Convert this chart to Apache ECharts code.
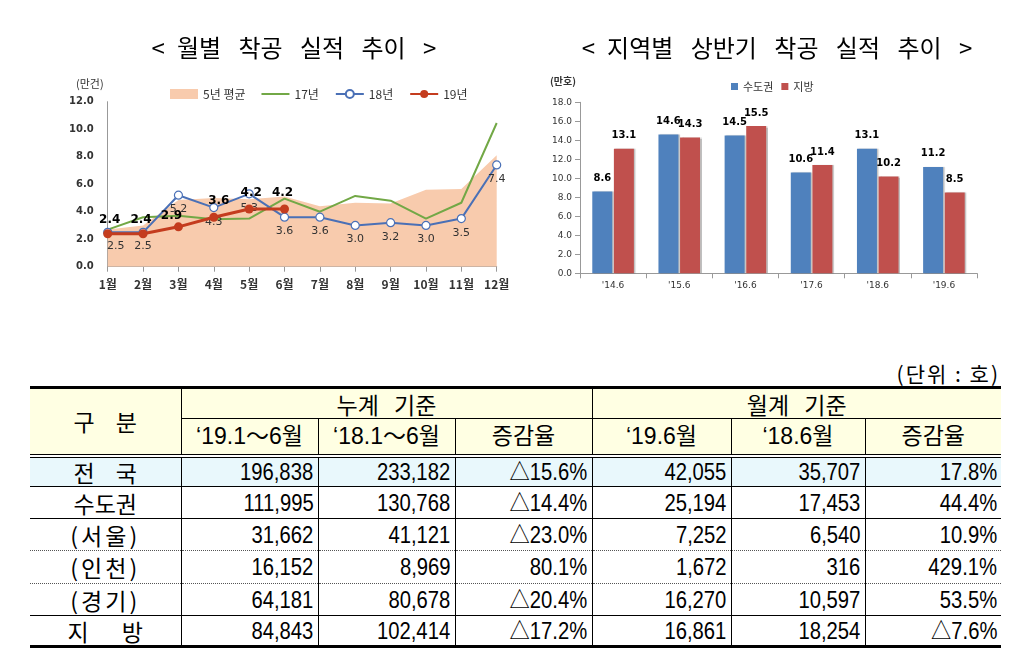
<!DOCTYPE html>
<html>
<head>
<meta charset="utf-8">
<script src="https://cdn.jsdelivr.net/npm/echarts@6/dist/echarts.min.js"></script>
<style>
html,body{margin:0;padding:0;background:#fff;width:1027px;height:657px;overflow:hidden;}
#chart{position:absolute;left:0;top:0;width:1027px;height:340px;}
#unit{position:absolute;right:27px;top:360px;font:21px/26px "Noto Sans CJK KR",sans-serif;color:#000;letter-spacing:2px;}
#tbl{position:absolute;left:30px;top:386px;width:971px;border-collapse:collapse;table-layout:fixed;
  font-family:"Liberation Sans","Noto Sans CJK KR",sans-serif;color:#000;}
#tbl td{padding:0 4px;line-height:24px;border-left:1px solid #000;border-right:1px solid #000;white-space:nowrap;overflow:hidden;vertical-align:middle;}
#tbl td:first-child{border-left:none;}
#tbl td:last-child{border-right:none;}
#tbl tr:first-child td{border-top:3px solid #000;}
.hd{background:#FFFFE3;text-align:center;font-size:23px;}
.lab{text-align:center;font-family:"Noto Sans CJK KR",sans-serif;font-size:23px;word-spacing:16px;}
.num{text-align:right;font-size:23px;}
.num span{display:inline-block;transform:scaleX(0.88);transform-origin:right center;}
.nat td{background:#E9F8FC;}
</style>
</head>
<body>
<div id="chart"></div>
<div id="unit">(단위 : 호)</div>
<table id="tbl"></table>
<script>
// ---------- Left chart data ----------
const months = ['1월','2월','3월','4월','5월','6월','7월','8월','9월','10월','11월','12월'];
const avg5 = [2.7, 3.0, 4.85, 5.0, 4.9, 5.1, 4.4, 4.65, 4.6, 5.6, 5.65, 8.1];
const y17 = [2.7, 3.6, 3.7, 3.45, 3.5, 4.95, 4.0, 5.15, 4.8, 3.5, 4.65, 10.45];
const y18 = [2.5, 2.5, 5.2, 4.3, 5.3, 3.6, 3.6, 3.0, 3.2, 3.0, 3.5, 7.4];
const y19 = [2.4, 2.4, 2.9, 3.6, 4.2, 4.2];
const leftTicks = [0, 2, 4, 6, 8, 10, 12];

// ---------- Right chart data ----------
const periods = ["'14.6", "'15.6", "'16.6", "'17.6", "'18.6", "'19.6"];
const capital = [8.6, 14.6, 14.5, 10.6, 13.1, 11.2];
const local = [13.1, 14.3, 15.5, 11.4, 10.2, 8.5];
const rightTicks = [0, 2, 4, 6, 8, 10, 12, 14, 16, 18];

// ---------- Table data ----------
const groupHeaders = ['누계 기준', '월계 기준'];
const subHeaders = ['‘19.1～6월', '‘18.1～6월', '증감율', '‘19.6월', '‘18.6월', '증감율'];
const rowLabels = ['전 국', '수도권', '(서울)', '(인천)', '(경기)', '지 방'];
const colCum19 = ['196,838', '111,995', '31,662', '16,152', '64,181', '84,843'];
const colCum18 = ['233,182', '130,768', '41,121', '8,969', '80,678', '102,414'];
const colCumRate = ['△15.6%', '△14.4%', '△23.0%', '80.1%', '△20.4%', '△17.2%'];
const colMon19 = ['42,055', '25,194', '7,252', '1,672', '16,270', '16,861'];
const colMon18 = ['35,707', '17,453', '6,540', '316', '10,597', '18,254'];
const colMonRate = ['17.8%', '44.4%', '10.9%', '429.1%', '53.5%', '△7.6%'];

// label offset styles (not data)
const y18LabelOffset = [[8,0],[0,0],[0,0],[0,0],[0,0],[0,0],[0,0],[0,0],[0,0],[0,0],[0,0],[0,0]];
const y19LabelOffset = [[2,0],[-2,0],[-7,3],[5,-3],[2,-3],[-2,-3]];

const chart = echarts.init(document.getElementById('chart'));
const fnt = 'DejaVu Sans';
const kfont = '"Noto Sans CJK KR", sans-serif';
const G = '\u2002 ';

const option = {
  animation: false,
  title: [
    {text: '<\u2002월별' + G + '착공' + G + '실적' + G + '추이\u2002 >', left: 289, top: 31, textAlign: 'center',
     textStyle: {fontFamily: kfont, fontSize: 24, fontWeight: 'normal', color: '#000'}},
    {text: '<\u2002지역별' + G + '상반기' + G + '착공' + G + '실적' + G + '추이\u2002 >', left: 772, top: 31, textAlign: 'center',
     textStyle: {fontFamily: kfont, fontSize: 24, fontWeight: 'normal', color: '#000'}}
  ],
  legend: [
    {left: 165, top: 83, itemGap: 16, itemWidth: 28, itemHeight: 10,
     textStyle: {fontFamily: kfont, fontSize: 12, color: '#333'},
     data: [
       {name: '5년 평균', icon: 'rect', itemStyle: {color: '#F8CBAD'}},
       {name: '17년', icon: 'path://M0,4L28,4L28,6L0,6Z', itemStyle: {color: '#72A846'}},
       {name: '18년'}, {name: '19년'}
     ]},
    {left: 726, top: 76, itemGap: 8, itemWidth: 7, itemHeight: 7, icon: 'rect',
     textStyle: {fontFamily: kfont, fontSize: 11, color: '#333'},
     data: ['수도권', '지방']}
  ],
  grid: [
    {left: 107.7, top: 101.7, width: 389, height: 165},
    {left: 580, top: 102.3, width: 397, height: 171}
  ],
  xAxis: [
    {gridIndex: 0, type: 'category', boundaryGap: false, data: months,
     axisLine: {lineStyle: {color: '#999'}}, axisTick: {show: true, lineStyle: {color: '#999'}},
     axisLabel: {fontFamily: kfont, fontSize: 12, fontWeight: 'bold', color: '#333', margin: 12}},
    {gridIndex: 1, type: 'category', data: periods,
     axisLine: {lineStyle: {color: '#999'}}, axisTick: {show: true, lineStyle: {color: '#999'}},
     axisLabel: {fontFamily: fnt, fontSize: 9, color: '#333', margin: 8}}
  ],
  yAxis: [
    {gridIndex: 0, type: 'value', min: leftTicks[0], max: leftTicks[leftTicks.length-1], interval: leftTicks[1]-leftTicks[0],
     name: '(만건)', nameLocation: 'end', nameGap: 12,
     nameTextStyle: {fontFamily: kfont, fontSize: 11, color: '#333', align: 'right', padding: [0, 4, 0, 0]},
     axisLine: {show: true, lineStyle: {color: '#999'}}, axisTick: {show: false}, splitLine: {show: false},
     axisLabel: {fontFamily: fnt, fontSize: 10, fontWeight: 'bold', color: '#333', margin: 14, formatter: v => v.toFixed(1)}},
    {gridIndex: 1, type: 'value', min: rightTicks[0], max: rightTicks[rightTicks.length-1], interval: rightTicks[1]-rightTicks[0],
     name: '(만호)', nameLocation: 'end', nameGap: 16,
     nameTextStyle: {fontFamily: kfont, fontSize: 10, fontWeight: 'bold', color: '#333', align: 'right', padding: [0, 4, 0, 0]},
     axisLine: {show: true, lineStyle: {color: '#999'}}, axisTick: {show: true, lineStyle: {color: '#999'}}, splitLine: {show: false},
     axisLabel: {fontFamily: fnt, fontSize: 9, color: '#333', margin: 8, formatter: v => v.toFixed(1)}}
  ],
  series: [
    {name: '5년 평균', type: 'line', xAxisIndex: 0, yAxisIndex: 0, data: avg5, symbol: 'none',
     lineStyle: {width: 0, color: '#F8CBAD'}, itemStyle: {color: '#F8CBAD'},
     areaStyle: {color: '#F8CBAD', opacity: 1}, z: 1},
    {name: '17년', type: 'line', xAxisIndex: 0, yAxisIndex: 0, data: y17, symbol: 'none',
     lineStyle: {width: 2, color: '#72A846'}, itemStyle: {color: '#72A846'}, z: 2},
    {name: '18년', type: 'line', xAxisIndex: 0, yAxisIndex: 0,
     data: y18.map((v, i) => ({value: v, label: {offset: y18LabelOffset[i]}})),
     symbol: 'circle', symbolSize: 8,
     lineStyle: {width: 2, color: '#4A70B6'}, itemStyle: {color: '#fff', borderColor: '#4A70B6', borderWidth: 1.2},
     label: {show: true, position: 'bottom', distance: 4, fontFamily: fnt, fontSize: 11, color: '#333', formatter: p => p.value.toFixed(1)}, z: 3},
    {name: '19년', type: 'line', xAxisIndex: 0, yAxisIndex: 0,
     data: y19.map((v, i) => ({value: v, label: {offset: y19LabelOffset[i]}})),
     symbol: 'circle', symbolSize: 9,
     lineStyle: {width: 3, color: '#C43C1E'}, itemStyle: {color: '#C43C1E'},
     label: {show: true, position: 'top', distance: 3, fontFamily: fnt, fontSize: 12, fontWeight: 'bold', color: '#000', formatter: p => p.value.toFixed(1)}, z: 4},
    {name: '수도권', type: 'bar', xAxisIndex: 1, yAxisIndex: 1, data: capital, barWidth: 20, barGap: '8%',
     itemStyle: {color: '#4F81BD', shadowColor: 'rgba(0,0,0,0.25)', shadowOffsetX: 1.5, shadowBlur: 1},
     label: {show: true, position: 'top', distance: 8, fontFamily: fnt, fontSize: 10, fontWeight: 'bold', color: '#000', formatter: p => p.value.toFixed(1)}},
    {name: '지방', type: 'bar', xAxisIndex: 1, yAxisIndex: 1, data: local, barWidth: 20,
     itemStyle: {color: '#C0504D', shadowColor: 'rgba(0,0,0,0.25)', shadowOffsetX: 1.5, shadowBlur: 1},
     label: {show: true, position: 'top', distance: 8, fontFamily: fnt, fontSize: 10, fontWeight: 'bold', color: '#000', formatter: p => p.value.toFixed(1)}}
  ]
};
chart.setOption(option);

// ---------- Table ----------
const colWidths = [151, 137, 137, 137, 139, 134, 136];
const rowHeights = [31, 37, 31, 32, 32, 33, 32, 31];
const tbl = document.getElementById('tbl');
const cg = document.createElement('colgroup');
colWidths.forEach(w => { const c = document.createElement('col'); c.style.width = w + 'px'; cg.appendChild(c); });
tbl.appendChild(cg);

let tr = tbl.insertRow();
tr.style.height = rowHeights[0] + 'px';
let td = tr.insertCell(); td.rowSpan = 2; td.className = 'hd lab'; td.textContent = '구 분';
td.style.borderBottom = '4px double #000';
groupHeaders.forEach(g => { const c = tr.insertCell(); c.colSpan = 3; c.className = 'hd'; c.textContent = g;
  c.style.borderBottom = '1px solid #000'; c.style.fontFamily = kfont; c.style.wordSpacing = '10px'; });
tr = tbl.insertRow();
tr.style.height = rowHeights[1] + 'px';
subHeaders.forEach(h => { const c = tr.insertCell(); c.className = 'hd'; c.textContent = h; c.style.borderBottom = '4px double #000'; });

const cols = [colCum19, colCum18, colCumRate, colMon19, colMon18, colMonRate];
rowLabels.forEach((lab, r) => {
  const row = tbl.insertRow();
  row.style.height = rowHeights[r + 2] + 'px';
  if (r === 0) row.className = 'nat';
  const sep = (r === 2 || r === 3) ? '1px dotted #555' : '1px solid #000';
  const l = row.insertCell(); l.className = 'lab'; l.textContent = lab;
  if (lab.startsWith('(')) { l.style.letterSpacing = '3px'; l.style.wordSpacing = '0'; }
  if (r === 5) l.style.wordSpacing = '28px';
  cols.forEach(col => { const c = row.insertCell(); c.className = 'num';
    const s = document.createElement('span'); s.textContent = col[r]; c.appendChild(s); });
  Array.from(row.cells).forEach(c => { c.style.borderBottom = r === 5 ? '3px solid #000' : sep; });
});
</script>
</body>
</html>
